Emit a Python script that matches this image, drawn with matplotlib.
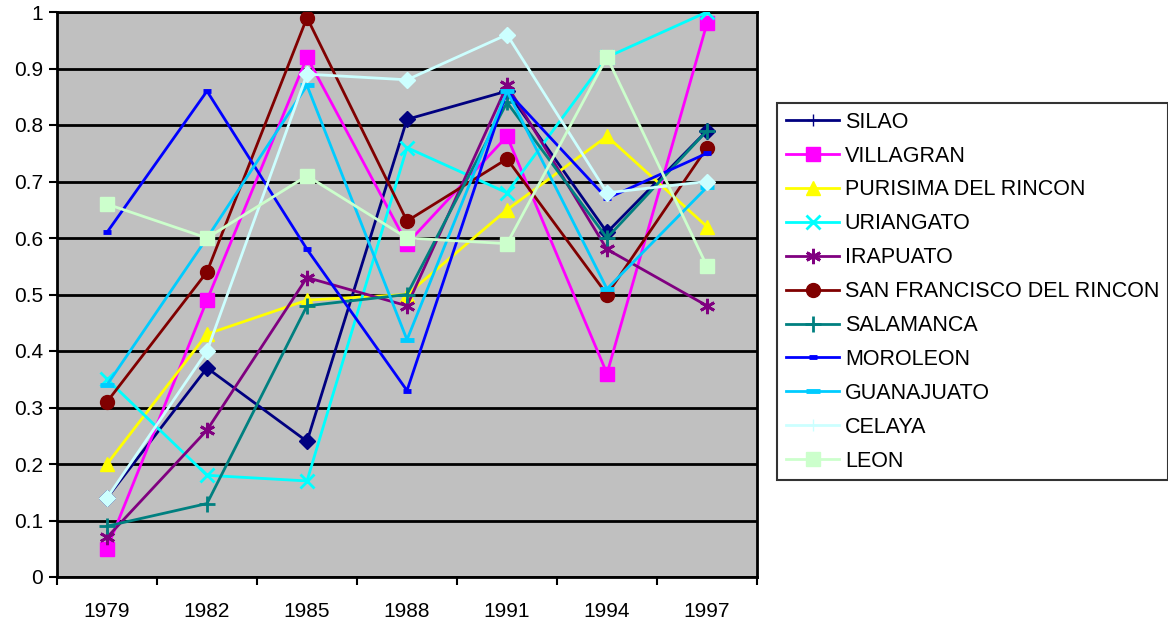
import matplotlib.pyplot as plt
from matplotlib.lines import Line2D

plt.rcParams['font.family'] = ['Liberation Sans', 'DejaVu Sans']

years = ['1979', '1982', '1985', '1988', '1991', '1994', '1997']

silao = [0.14, 0.37, 0.24, 0.81, 0.86, 0.61, 0.79]
villagran = [0.05, 0.49, 0.92, 0.59, 0.78, 0.36, 0.98]
purisima = [0.20, 0.43, 0.49, 0.50, 0.65, 0.78, 0.62]
uriangato = [0.35, 0.18, 0.17, 0.76, 0.68, 0.92, 1.00]
irapuato = [0.07, 0.26, 0.53, 0.48, 0.87, 0.58, 0.48]
san_francisco = [0.31, 0.54, 0.99, 0.63, 0.74, 0.50, 0.76]
salamanca = [0.09, 0.13, 0.48, 0.50, 0.84, 0.60, 0.79]
moroleon = [0.61, 0.86, 0.58, 0.33, 0.86, 0.67, 0.75]
guanajuato = [0.34, 0.60, 0.87, 0.42, 0.86, 0.51, 0.69]
celaya = [0.14, 0.40, 0.89, 0.88, 0.96, 0.68, 0.70]
leon = [0.66, 0.60, 0.71, 0.60, 0.59, 0.92, 0.55]

# name, values, colour, plot marker, legend marker, marker size
series = [
    ('SILAO', silao, '#000080', 'D', '+', 8),
    ('VILLAGRAN', villagran, '#FF00FF', 's', 's', 10),
    ('PURISIMA DEL RINCON', purisima, '#FFFF00', '^', '^', 10),
    ('URIANGATO', uriangato, '#00FFFF', 'x', 'x', 10),
    ('IRAPUATO', irapuato, '#800080', (6, 2, 0), (6, 2, 0), 11),
    ('SAN FRANCISCO DEL RINCON', san_francisco, '#800000', 'o', 'o', 10),
    ('SALAMANCA', salamanca, '#008080', '+', '+', 11),
    ('MOROLEON', moroleon, '#0000FF', '_', '_', 6),
    ('GUANAJUATO', guanajuato, '#00CCFF', '_', '_', 10),
    ('CELAYA', celaya, '#CCFFFF', 'D', '+', 8),
    ('LEON', leon, '#CCFFCC', 's', 's', 10),
]

fig = plt.figure(figsize=(11.68, 6.27), dpi=100)
ax = fig.add_axes([57 / 1168, 1 - 577 / 627, 700 / 1168, 565 / 627])
ax.set_facecolor('#C0C0C0')

x = list(range(len(years)))
handles = []
for name, vals, col, mk, lmk, ms in series:
    if mk == '_':
        mew = 3.5
    elif mk in ('x', '+', (6, 2, 0)):
        mew = 2
    else:
        mew = 1
    ax.plot(x, vals, color=col, linewidth=2, marker=mk, markersize=ms,
            markerfacecolor=col, markeredgecolor=col, markeredgewidth=mew, zorder=3)
    handles.append(Line2D([], [], color=col, linewidth=2, marker=lmk, markersize=ms,
                          markerfacecolor=col, markeredgecolor=col, markeredgewidth=mew))

ax.set_xlim(-0.5, 6.5)
ax.set_ylim(0, 1)
ax.set_yticks([i / 10 for i in range(11)])
ax.set_yticklabels(['0'] + ['0.%d' % i for i in range(1, 10)] + ['1'], fontsize=15)
ax.yaxis.grid(True, color='black', linewidth=2)
ax.set_axisbelow(True)

ax.set_xticks([i - 0.5 for i in range(8)])
ax.set_xticklabels([])
ax.set_xticks(x, minor=True)
ax.set_xticklabels(years, minor=True, fontsize=15)
ax.tick_params(axis='x', which='minor', length=0, pad=18)
ax.tick_params(axis='x', which='major', length=6, width=1.5, direction='out')
ax.tick_params(axis='y', length=6, width=1.5, direction='out', pad=4)

for side in ['left', 'bottom', 'right', 'top']:
    ax.spines[side].set_linewidth(2)
    ax.spines[side].set_color('black')

leg = fig.legend(handles, [s[0] for s in series], loc='upper left',
                 bbox_to_anchor=(777 / 1168, 1 - 103 / 627), fontsize=15.5,
                 frameon=True, fancybox=False, edgecolor='black', handlelength=2.5,
                 handletextpad=0.25, labelspacing=0.6, borderpad=0.4, borderaxespad=0)
leg.get_frame().set_linewidth(1.5)

fig.savefig('out.png', dpi=100)
